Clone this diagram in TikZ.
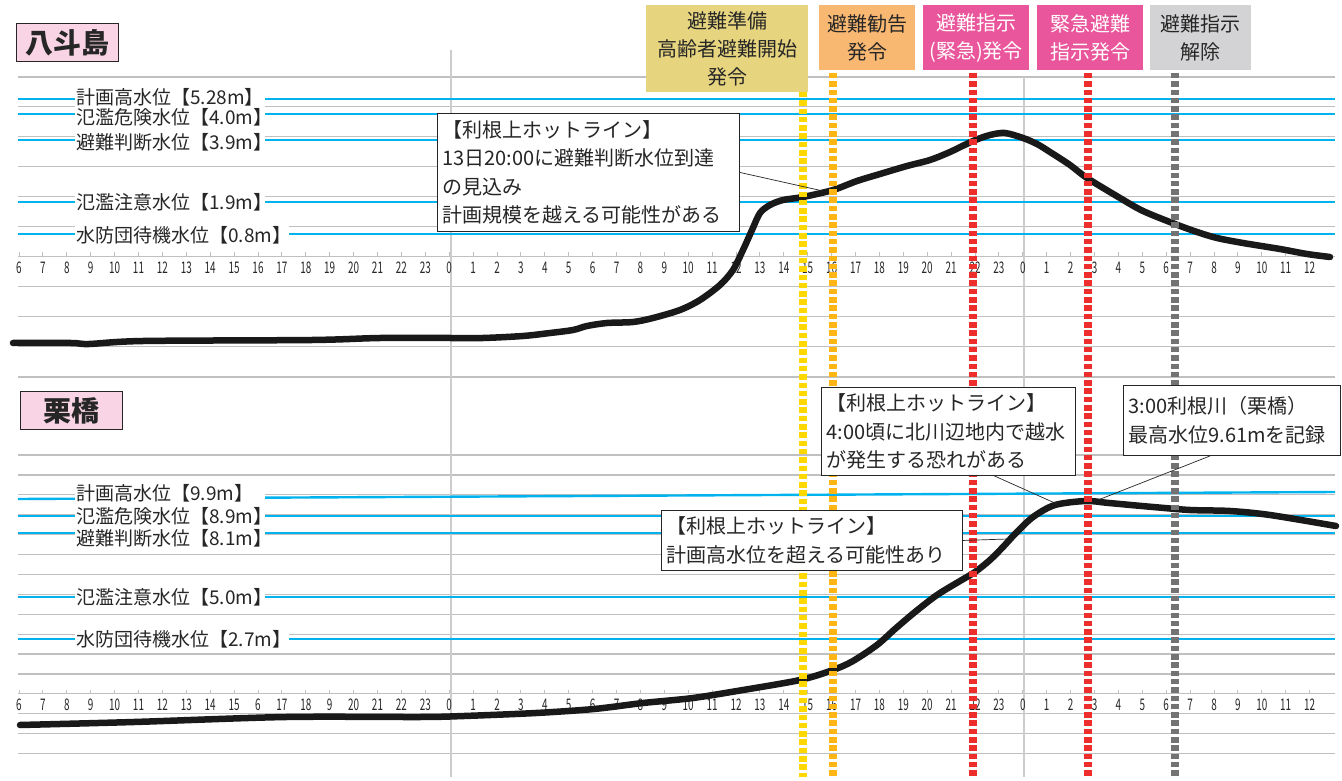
\documentclass[tikz,border=0pt]{standalone}
\usepackage{fontspec}
\newfontfamily\jp{Noto Sans CJK JP}
\usetikzlibrary{calc}

\definecolor{gridgray}{HTML}{C0C0C0}
\definecolor{daygray}{HTML}{CCCCCC}
\definecolor{levelblue}{HTML}{00B3EF}
\definecolor{khaki}{HTML}{E6D47F}
\definecolor{orangebox}{HTML}{F9B872}
\definecolor{pinkbox}{HTML}{EA569B}
\definecolor{graybox}{HTML}{D3D3D5}
\definecolor{titlepink}{HTML}{F9D4E4}
\definecolor{dashyellow}{HTML}{FFD800}
\definecolor{dashorange}{HTML}{FFB514}
\definecolor{dashred}{HTML}{EE2D2D}
\definecolor{dashgray}{HTML}{737373}
\definecolor{ink}{HTML}{262626}

\newcommand{\hr}[1]{\scalebox{0.62}[1]{#1}}

\tikzset{
  grid line/.style={gridgray, line width=1.2pt},
  day line/.style={daygray, line width=1.6pt},
  level line/.style={levelblue, line width=2.4pt},
  level label/.style={fill=white, anchor=west, inner xsep=1pt, inner ysep=0pt,
    minimum height=20pt, text width=#1, align=left, text=ink,
    font=\jp\fontsize{19}{19}\selectfont},
  level label/.default=188pt,
  tickmark/.style={gridgray, line width=1pt},
  hour/.style={inner sep=0pt, text=ink, font=\jp\fontsize{16}{16}\selectfont},
  event box/.style={fill=#1, anchor=north west, inner sep=0pt, align=center,
    font=\jp\fontsize{20}{28}\selectfont},
  event box/.default=white,
  alert/.style={line width=7.5pt, dash pattern=on 5.5pt off 2.8pt, #1},
  alert/.default=black,
  title box/.style={draw=ink, line width=1.2pt, fill=titlepink, anchor=north west,
    minimum width=102pt, minimum height=38pt, inner sep=0pt,
    font=\jp\bfseries\fontsize{28}{28}\selectfont, text=ink},
  callout/.style={draw=ink, line width=0.9pt, fill=white, anchor=north west,
    inner xsep=5pt, inner ysep=0pt, align=left, text=ink,
    font=\jp\fontsize{20}{28.5}\selectfont},
  pointer/.style={ink, line width=0.7pt},
  gauge/.style={black!90, line width=6.5pt, line cap=round, line join=round}
}

\begin{document}
\begin{tikzpicture}[x=1pt, y=-1pt]
        \fill[white] (0,0) rectangle (1342,777);

        % grid
        \foreach \k in {0,...,9}
                \draw[grid line] (18,{77+29.9*\k}) -- (1335,{77+29.9*\k});
        \draw[grid line] (18,377) -- (1335,377);
        \foreach \k in {0,...,15}
                \draw[grid line] (18,{455+19.9*\k}) -- (1335,{455+19.9*\k});
        \draw[day line] (451,50) -- (451,777);
        \draw[day line] (1024,77) -- (1024,777);

        % hours
        \foreach \i in {0,...,54}{
                \pgfmathtruncatemacro\hh{mod(\i+6,24)}
                \draw[tickmark] ({19+23.9*\i},256.4) -- ++(0,-4);
                \node[hour] (ha\i) at ({19+23.9*\i},268) {\hr{\hh}};
        }
        \foreach \i in {0,...,54}{
                \pgfmathtruncatemacro\hh{mod(\i+6,24)}
                \ifnum\i=10 \def\hh{6}\fi
                \ifnum\i=13 \def\hh{9}\fi
                \draw[tickmark] ({19+23.9*\i},693.8) -- ++(0,-4);
                \node[hour] (hb\i) at ({19+23.9*\i},705) {\hr{\hh}};
        }

        % water levels
        \foreach \y in {99,114,140,202,234,516,533,597,639}
                \draw[level line] (18,\y) -- (1335,\y);
        \draw[level line] (18,499) -- (1335,492);

        \node[level label] (lv528) at (75,97) {計画高水位【5.28m】};
        \node[level label] (lv40) at (75,117) {氾濫危険水位【4.0m】};
        \node[level label] (lv39) at (75,142) {避難判断水位【3.9m】};
        \node[level label] (lv19) at (75,202) {氾濫注意水位【1.9m】};
        \node[level label=212pt] (lv08) at (75,235) {水防団待機水位【0.8m】};

        \node[level label] (lv99) at (75,493) {計画高水位【9.9m】};
        \node[level label] (lv89) at (75,516) {氾濫危険水位【8.9m】};
        \node[level label] (lv81) at (75,538) {避難判断水位【8.1m】};
        \node[level label] (lv50) at (75,597) {氾濫注意水位【5.0m】};
        \node[level label=212pt] (lv27) at (75,639) {水防団待機水位【2.7m】};

        % hydrographs
        \draw[gauge] plot[smooth, tension=0.5] coordinates {(13,343) (71,343) (89,344) (143,341) (312,340) (380,338) (451,338) (483,338) (523,336) (550,333) (573,330) (587,326) (607,323) (633,322) (653,318) (680,310) (700,300) (720,285) (733,270) (743,250) (752,230) (760,213) (770,205) (783,200) (803,197) (833,190) (857,181) (880,174) (907,166) (930,160) (950,152) (973,141) (990,135) (1005,133) (1023,138) (1037,144) (1050,152) (1070,165) (1087,178) (1120,198) (1143,211) (1175,224) (1197,232) (1217,238) (1243,243) (1280,249) (1307,254) (1330,257)};
        \draw[gauge] plot[smooth, tension=0.5] coordinates {(20,725) (134,722) (286,717) (420,717) (464,716) (536,713) (594,709) (643,703) (693,698) (743,690) (800,680) (833,670) (853,661) (877,645) (895,629) (915,612) (937,595) (960,581) (975,572) (990,560) (1003,547) (1015,534) (1033,517) (1055,505) (1086,501) (1109,503) (1153,507) (1190,510) (1230,511) (1270,515) (1336,526)};
        \coordinate (p1) at (823,191);
        \coordinate (p2) at (1057,504);
        \coordinate (p3) at (1098,500);
        \coordinate (p4) at (1008,539);

        % orders
        \node[event box=khaki, text=ink, minimum width=162pt, minimum height=87pt] (ev1) at (646,5) {避難準備\\高齢者避難開始\\発令};
        \node[event box=orangebox, text=ink, minimum width=96pt, minimum height=65pt] (ev2) at (819,5) {避難勧告\\発令};
        \node[event box=pinkbox, text=white, minimum width=106pt, minimum height=65pt] (ev3) at (923,5) {避難指示\\(緊急)発令};
        \node[event box=pinkbox, text=white, minimum width=106pt, minimum height=65pt] (ev4) at (1037,5) {緊急避難\\指示発令};
        \node[event box=graybox, text=ink, minimum width=101pt, minimum height=65pt] (ev5) at (1150,5) {避難指示\\解除};

        \draw[alert=dashyellow] (803,92) -- (803,777);
        \draw[alert=dashorange] (833,73) -- (833,777);
        \draw[alert=dashred] (973,73) -- (973,777);
        \draw[alert=dashred] (1088,73) -- (1088,777);
        \draw[alert=dashgray] (1175,73) -- (1175,777);

        \node[title box] (hattojima) at (16,23) {八斗島};
        \node[title box] (kurihashi) at (20,391) {栗橋};

        % hotline notes
        \node[callout, text width=292pt, minimum height=118pt] (hot1) at (437,113) {【利根上ホットライン】\\13日20:00に避難判断水位到達\\の見込み\\計画規模を越える可能性がある};
        \node[callout, text width=244pt, minimum height=88pt] (hot2) at (821,387) {【利根上ホットライン】\\4:00頃に北川辺地内で越水\\が発生する恐れがある};
        \node[callout, text width=207pt, minimum height=70pt] (rec) at (1123,385) {3:00利根川（栗橋）\\最高水位9.61mを記録};
        \node[callout, text width=291pt, minimum height=60pt] (hot3) at (661,510) {【利根上ホットライン】\\計画高水位を超える可能性あり};

        \draw[pointer] (hot1.east) -- (p1);
        \draw[pointer] ($(hot2.south west)!0.68!(hot2.south east)$) -- (p2);
        \draw[pointer] ($(rec.south west)!0.4!(rec.south east)$) -- (p3);
        \draw[pointer] (hot3.east) -- (p4);
\end{tikzpicture}
\end{document}
